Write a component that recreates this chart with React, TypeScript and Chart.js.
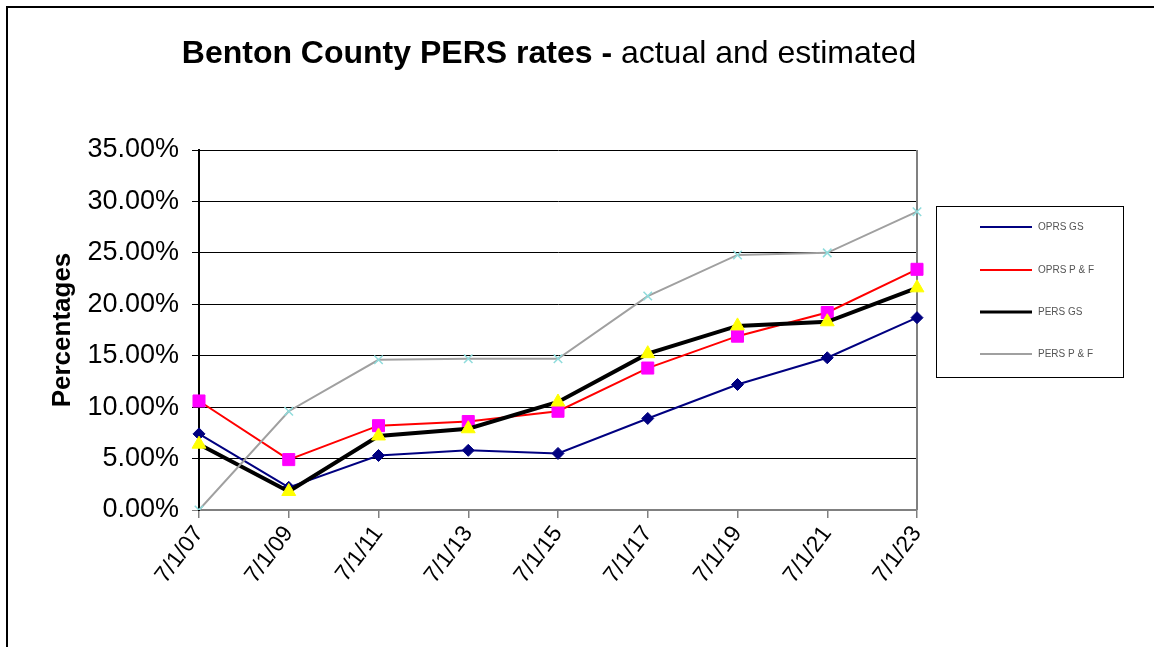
import React, { useEffect, useRef } from "react";
import { Chart, registerables } from "chart.js";

Chart.register(...registerables);

const FONT = '"Liberation Sans", Arial, Helvetica, sans-serif';

// Valuation periods on the category axis
const periods = ["7/1/07", "7/1/09", "7/1/11", "7/1/13", "7/1/15", "7/1/17", "7/1/19", "7/1/21", "7/1/23"];

// Employer contribution rates, in percent of payroll
const oprsGS = [7.4, 2.2, 5.3, 5.8, 5.5, 8.9, 12.2, 14.8, 18.7];
const oprsPF = [10.6, 4.9, 8.2, 8.6, 9.6, 13.8, 16.9, 19.2, 23.4];
const persGS = [6.4, 1.8, 7.2, 7.9, 10.5, 15.2, 17.9, 18.3, 21.6];
const persPF = [0.0, 9.6, 14.6, 14.7, 14.7, 20.8, 24.8, 25.0, 29.0];

const seriesNames = ["OPRS GS", "OPRS P & F", "PERS GS", "PERS P & F"];

const titleBold = "Benton County PERS rates - ";
const titleRest = "actual and estimated";
const yAxisTitle = "Percentages";

// Two-weight chart heading
const headingPlugin = {
  id: "splitHeading",
  afterDraw(chart: any) {
    const ctx = chart.ctx;
    ctx.save();
    const bold = `bold 32px ${FONT}`;
    const normal = `32px ${FONT}`;
    ctx.font = bold;
    const w1 = ctx.measureText(titleBold).width;
    ctx.font = normal;
    const w2 = ctx.measureText(titleRest).width;
    const x0 = 549 - (w1 + w2) / 2;
    const baseline = 63;
    ctx.fillStyle = "#000";
    ctx.textBaseline = "alphabetic";
    ctx.textAlign = "left";
    ctx.font = bold;
    ctx.fillText(titleBold, x0, baseline);
    ctx.font = normal;
    ctx.fillText(titleRest, x0 + w1, baseline);
    ctx.restore();
  },
};

// Gray right-hand edge of the plot area
const frameEdgePlugin = {
  id: "frameEdge",
  beforeDatasetsDraw(chart: any) {
    const { ctx, chartArea } = chart;
    ctx.save();
    ctx.strokeStyle = "#808080";
    ctx.lineWidth = 2;
    ctx.beginPath();
    ctx.moveTo(chartArea.right, chartArea.top);
    ctx.lineTo(chartArea.right, chartArea.bottom);
    ctx.stroke();
    ctx.restore();
  },
};

// Boxed legend on the right, one line sample per series
const boxedLegendPlugin = {
  id: "boxedLegend",
  afterDraw(chart: any) {
    const ctx = chart.ctx;
    const box = { x: 936.5, y: 206.5, w: 187, h: 171 };
    ctx.save();
    ctx.strokeStyle = "#000";
    ctx.lineWidth = 1;
    ctx.strokeRect(box.x, box.y, box.w, box.h);
    const rows = [227, 270, 312, 354];
    chart.data.datasets.forEach((ds: any, i: number) => {
      const y = rows[i];
      ctx.strokeStyle = ds.borderColor;
      ctx.lineWidth = Math.min(ds.borderWidth, 3);
      ctx.beginPath();
      ctx.moveTo(980, y);
      ctx.lineTo(1032, y);
      ctx.stroke();
      ctx.fillStyle = "#555";
      ctx.font = `10px ${FONT}`;
      ctx.textBaseline = "middle";
      ctx.textAlign = "left";
      ctx.fillText(ds.label, 1038, y);
    });
    ctx.restore();
  },
};

export default function App() {
  const canvasRef = useRef<HTMLCanvasElement | null>(null);

  useEffect(() => {
    if (!canvasRef.current) return;
    const chart = new Chart(canvasRef.current, {
      type: "line",
      data: {
        labels: periods,
        datasets: [
          {
            label: seriesNames[0],
            data: oprsGS,
            borderColor: "#000080",
            borderWidth: 2,
            pointStyle: "rectRot",
            pointRadius: 6,
            pointBackgroundColor: "#000080",
            pointBorderColor: "#000080",
            pointBorderWidth: 1,
            order: 3,
          },
          {
            label: seriesNames[1],
            data: oprsPF,
            borderColor: "#FF0000",
            borderWidth: 2,
            pointStyle: "rect",
            pointRadius: 8.5,
            pointBackgroundColor: "#FF00FF",
            pointBorderColor: "#FF00FF",
            pointBorderWidth: 1,
            order: 2,
          },
          {
            label: seriesNames[2],
            data: persGS,
            borderColor: "#000000",
            borderWidth: 4,
            pointStyle: "triangle",
            pointRadius: 8,
            pointBackgroundColor: "#FFFF00",
            pointBorderColor: "#FFFF00",
            pointBorderWidth: 1,
            order: 1,
          },
          {
            label: seriesNames[3],
            data: persPF,
            borderColor: "#A0A0A0",
            borderWidth: 2,
            pointStyle: "crossRot",
            pointRadius: 6,
            pointBackgroundColor: "#8FDCDC",
            pointBorderColor: "#8FDCDC",
            pointBorderWidth: 1.5,
            order: 0,
          },
        ],
      },
      options: {
        responsive: false,
        animation: false,
        devicePixelRatio: 1,
        layout: { padding: { left: 0, top: 150, right: 237, bottom: 0 } },
        elements: { line: { tension: 0 } },
        plugins: {
          legend: { display: false },
          title: { display: false },
          tooltip: { enabled: false },
        },
        scales: {
          x: {
            type: "category",
            offset: false,
            grid: {
              display: true,
              drawOnChartArea: false,
              drawTicks: true,
              tickLength: 8,
              color: "#808080",
              lineWidth: 1.5,
            },
            border: { display: true, color: "#808080", width: 2 },
            ticks: {
              autoSkip: false,
              maxRotation: 53,
              minRotation: 53,
              padding: 3,
              color: "#000",
              font: { family: FONT, size: 23 },
            },
            afterFit(scale: any) {
              scale.height = 137;
            },
          },
          y: {
            min: 0,
            max: 35,
            grid: {
              color: (c: any) => (c.tick && c.tick.value === 0 ? "#808080" : "#000"),
              lineWidth: 1,
              drawTicks: true,
              tickLength: 7,
            },
            border: { display: true, color: "#000", width: 2 },
            ticks: {
              stepSize: 5,
              padding: 13,
              color: "#000",
              font: { family: FONT, size: 27 },
              callback: (v: any) => Number(v).toFixed(2) + "%",
            },
            title: {
              display: true,
              text: yAxisTitle,
              color: "#000",
              font: { family: FONT, size: 26, weight: "bold" },
              padding: { top: 47, bottom: 0 },
            },
            afterFit(scale: any) {
              scale.width = 199;
            },
          },
        },
      },
      plugins: [frameEdgePlugin, headingPlugin, boxedLegendPlugin],
    } as any);
    return () => chart.destroy();
  }, []);

  return (
    <div
      style={{
        position: "absolute",
        left: 0,
        top: 0,
        width: 1154,
        height: 647,
        background: "#fff",
        overflow: "hidden",
      }}
    >
      <canvas
        ref={canvasRef}
        width={1154}
        height={647}
        style={{ position: "absolute", left: 0, top: 0, width: 1154, height: 647 }}
      />
      <div
        style={{
          position: "absolute",
          left: 6,
          top: 6,
          right: 0,
          bottom: 0,
          borderTop: "2px solid #000",
          borderLeft: "2px solid #000",
          pointerEvents: "none",
        }}
      />
    </div>
  );
}
